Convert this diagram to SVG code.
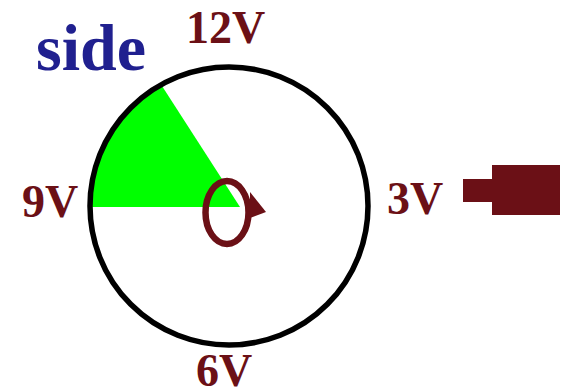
<svg xmlns="http://www.w3.org/2000/svg" width="567" height="388" viewBox="0 0 567 388">
<style>
.lbl{font-family:"Liberation Serif","Times New Roman",serif;font-weight:bold;fill:#6b1016;font-size:46px}
.title{font-family:"Liberation Serif","Times New Roman",serif;font-weight:bold;fill:#20208f;font-size:66px}
</style>
<rect width="567" height="388" fill="#ffffff"/>
<g id="sector">
<path d="M240 207 L162 86 A139 139 0 0 0 90 207 Z" fill="#00ff00"/>
</g>
<g id="dial">
<circle cx="229" cy="206" r="139" fill="none" stroke="#000" stroke-width="5.5"/>
</g>
<g id="rotation">
<ellipse cx="227" cy="212.5" rx="21.5" ry="31.5" fill="none" stroke="#6b1016" stroke-width="6.5"/>
<polygon points="250,192 266,212 250,218" fill="#6b1016"/>
</g>
<g id="plug">
<rect x="463" y="179" width="30" height="23" fill="#6b1016"/>
<rect x="492" y="165" width="68" height="50" fill="#6b1016"/>
</g>
<g id="labels">
<text class="title" x="36" y="70">side</text>
<text class="lbl" x="186" y="43">12V</text>
<text class="lbl" x="22" y="217">9V</text>
<text class="lbl" x="387" y="214">3V</text>
<text class="lbl" x="196" y="386">6V</text>
</g>
</svg>
